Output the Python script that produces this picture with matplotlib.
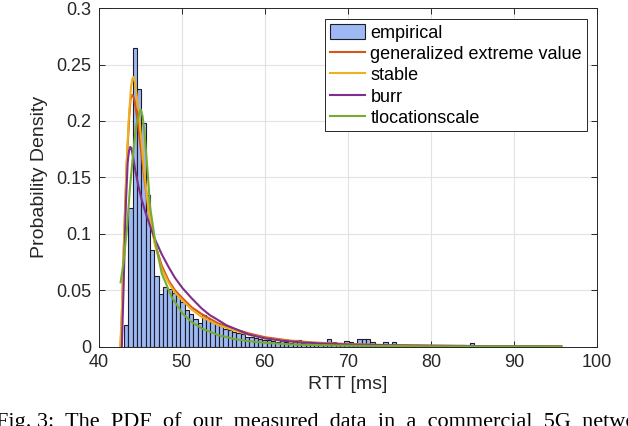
import numpy as np
import matplotlib.pyplot as plt
from matplotlib.ticker import FuncFormatter

plt.rcParams['font.family'] = ['Liberation Sans', 'DejaVu Sans']

# empirical histogram (probability density per bin)
bin_start = 43.07
bin_width = 0.52
density = [0.019, 0.123, 0.265, 0.228, 0.198, 0.134, 0.086, 0.063, 0.047, 0.053,
           0.051, 0.048, 0.046, 0.040, 0.033, 0.029, 0.0245, 0.021, 0.028, 0.025,
           0.022, 0.021, 0.019, 0.016, 0.015, 0.013, 0.012, 0.011, 0.009, 0.009,
           0.008, 0.007, 0.006, 0.006, 0.005, 0.0045, 0.005, 0.004, 0.0035, 0.006,
           0.006, 0.003, 0.0025, 0.003, 0.002, 0.0025, 0.002, 0.0065, 0.0045, 0.002,
           0.0025, 0.0053, 0.0044, 0.002, 0.0065, 0.0065, 0.0065, 0.0044, 0.002, 0.0015,
           0.004, 0.001, 0.004, 0.001, 0.0005, 0.001, 0, 0, 0, 0,
           0.0005, 0, 0, 0, 0, 0.0008, 0, 0, 0.002, 0, 0.0035]

# fitted pdfs
gev_x = [42.65, 42.85, 43.0, 43.2, 43.4, 43.7, 43.85, 44.0, 44.15, 44.3, 44.7, 45.1, 45.5, 46.0, 46.8,
         47.6, 48.4, 49.2, 50.1, 51.2, 52.4, 54.4, 56.4, 58.0, 60.0, 63.0, 66.0, 70.0,
         75.0, 80.0, 88.0, 95.7]
gev_y = [0.0, 0.04, 0.08, 0.125, 0.165, 0.205, 0.2195, 0.223, 0.2225, 0.219, 0.200, 0.175, 0.150, 0.122, 0.091,
         0.072, 0.059, 0.050, 0.043, 0.035, 0.029, 0.0207, 0.0156, 0.012, 0.0085, 0.0055, 0.0037, 0.0024,
         0.0014, 0.0009, 0.0005, 0.0003]

stable_x = [42.6, 42.8, 43.0, 43.2, 43.4, 43.6, 43.9, 44.05, 44.2, 44.4, 44.6, 45.0, 45.5, 46.0, 46.8,
            47.6, 48.4, 49.2, 50.1, 51.2, 52.4, 54.4, 56.4, 58.0, 60.0, 63.0, 66.0, 70.0,
            75.0, 80.0, 88.0, 95.7]
stable_y = [0.0, 0.03, 0.08, 0.124, 0.165, 0.198, 0.230, 0.237, 0.239, 0.233, 0.222, 0.195, 0.155, 0.122, 0.090,
            0.069, 0.057, 0.048, 0.041, 0.033, 0.0265, 0.0192, 0.0142, 0.011, 0.0075, 0.005, 0.0033, 0.0022,
            0.0013, 0.0009, 0.0005, 0.0003]

burr_x = [42.8, 43.0, 43.27, 43.5, 43.65, 43.8, 43.95, 44.1, 44.4, 44.8, 45.2, 45.6, 46.2, 46.8, 47.6,
          48.4, 49.2, 50.1, 51.2, 52.4, 53.4, 54.4, 55.4, 56.4, 58.0, 60.0, 62.0, 64.3,
          67.0, 70.3, 75.0, 80.0, 88.0, 95.7]
burr_y = [0.0, 0.05, 0.124, 0.163, 0.173, 0.177, 0.176, 0.170, 0.157, 0.142, 0.130, 0.120, 0.107, 0.095, 0.082,
          0.071, 0.061, 0.052, 0.043, 0.034, 0.028, 0.0236, 0.019, 0.016, 0.011, 0.0075, 0.0055, 0.0039,
          0.0028, 0.002, 0.0013, 0.0009, 0.0005, 0.0003]

tloc_x = [42.65, 42.98, 43.4, 43.79, 44.19, 44.5, 44.79, 44.95, 45.1, 45.3, 45.5, 45.9, 46.2, 46.8, 47.6,
          48.8, 50.1, 51.2, 52.4, 54.4, 56.4, 58.0, 60.0, 63.0, 66.0, 70.0, 80.0, 95.7]
tloc_y = [0.057, 0.074, 0.103, 0.142, 0.174, 0.195, 0.204, 0.208, 0.210, 0.204, 0.192, 0.155, 0.124, 0.094, 0.065,
          0.044, 0.0295, 0.022, 0.0163, 0.0103, 0.0068, 0.005, 0.0035, 0.0022, 0.0015, 0.001, 0.0004, 0.0002]

edges = bin_start + bin_width * np.arange(len(density))

fig = plt.figure(figsize=(6.28, 4.26), dpi=100)
ax = fig.add_axes([0.157, 0.186, 0.7936, 0.795])

bars = ax.bar(edges, density, width=bin_width, align='edge', color='#9db8f2',
              edgecolor='#1c1c2a', linewidth=0.8, label='empirical', zorder=2)
l1, = ax.plot(gev_x, gev_y, color='#D95319', lw=1.5, label='generalized extreme value', zorder=3)
l2, = ax.plot(stable_x, stable_y, color='#EDB120', lw=1.5, label='stable', zorder=3)
l3, = ax.plot(burr_x, burr_y, color='#7E2F8E', lw=1.5, label='burr', zorder=3)
l4, = ax.plot(tloc_x, tloc_y, color='#77AC30', lw=1.5, label='tlocationscale', zorder=3)

ax.set_xlim(40, 100)
ax.set_ylim(0, 0.3)
ax.set_xticks(np.arange(40, 101, 10))
ax.set_yticks(np.arange(0, 0.301, 0.05))
ax.yaxis.set_major_formatter(FuncFormatter(lambda v, p: f'{v:g}'))
ax.grid(True, color='#e2e2e2', lw=0.8)
ax.set_axisbelow(True)
ax.tick_params(direction='in', top=True, right=True, length=4, width=0.7,
               labelsize=13, colors='#262626', pad=5)
for s in ax.spines.values():
    s.set_color('#262626')
    s.set_linewidth(0.7)

ax.set_xlabel('RTT [ms]', fontsize=14, color='#262626', labelpad=4)
ax.set_ylabel('Probability Density', fontsize=14, color='#262626', labelpad=6)

leg = ax.legend([bars, l1, l2, l3, l4],
                ['empirical', 'generalized extreme value', 'stable', 'burr', 'tlocationscale'],
                loc='upper right', bbox_to_anchor=(0.979, 0.967), borderaxespad=0,
                fontsize=13, fancybox=False, framealpha=1, edgecolor='#262626',
                handlelength=1.95, handleheight=0.9, handletextpad=0.3,
                labelspacing=0.2, borderpad=0.25)
leg.get_frame().set_linewidth(0.7)

fig.text(-0.006, 0.032, 'Fig. 3:  The  PDF  of  our  measured  data  in  a  commercial  5G  network',
         fontsize=16, family='Liberation Serif', va='top', ha='left')

fig.savefig('out.png', dpi=100)
